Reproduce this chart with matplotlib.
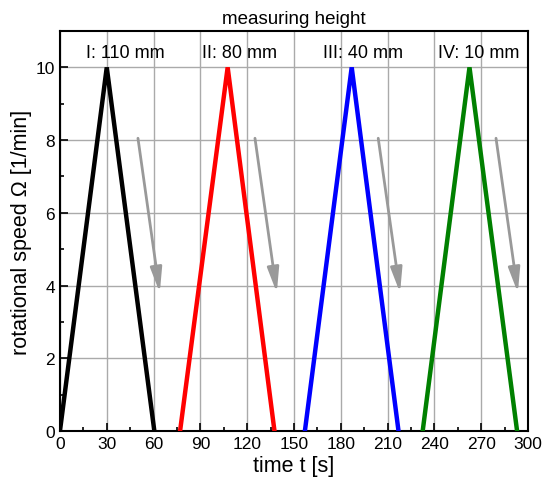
import numpy as np
import matplotlib.pyplot as plt
from matplotlib.ticker import MultipleLocator

plt.rcParams['font.family'] = ['Liberation Sans', 'DejaVu Sans']

# speed ramps (time in s, speed in 1/min), one triangle per measuring height
t_I = [0, 30, 60.5]
t_II = [77, 107.5, 137.5]
t_III = [157, 187, 217]
t_IV = [232.5, 262.5, 293]
omega = [0, 10, 0]

colors = ['black', 'red', 'blue', 'green']
labels = ['I: 110 mm', 'II: 80 mm', 'III: 40 mm', 'IV: 10 mm']
label_x = [41.7, 115, 194, 268.5]
label_y = 10.42

# gray arrows (start -> tip)
arrow_x0 = [50, 125, 204, 279.5]
arrow_x1 = [64, 139, 218, 293.5]
arrow_y0 = 8.05
arrow_y1 = 3.8

fig = plt.figure(figsize=(5.5, 4.89), dpi=100)
ax = fig.add_axes([0.109, 0.1166, 0.851, 0.818])

ax.grid(True, which='major', color='#aaaaaa', linewidth=1.0, zorder=0)
ax.set_axisbelow(True)

for t, c in zip([t_I, t_II, t_III, t_IV], colors):
    ax.plot(t, omega, color=c, linewidth=3.2, zorder=3, solid_joinstyle='miter')

for x0, x1 in zip(arrow_x0, arrow_x1):
    ax.annotate('', xy=(x1, arrow_y1), xytext=(x0, arrow_y0),
                arrowprops=dict(arrowstyle='-|>,head_length=1.5,head_width=0.35',
                                color='#999999', lw=2.0, shrinkA=0, shrinkB=0),
                zorder=2)

for x, s in zip(label_x, labels):
    ax.text(x, label_y, s, ha='center', va='center', fontsize=13)

ax.set_xlim(0, 300)
ax.set_ylim(0, 11)
ax.xaxis.set_major_locator(MultipleLocator(30))
ax.xaxis.set_minor_locator(MultipleLocator(15))
ax.yaxis.set_major_locator(MultipleLocator(2))
ax.yaxis.set_minor_locator(MultipleLocator(1))
ax.tick_params(which='both', direction='in', labelsize=12.5, width=1.2)
ax.tick_params(which='major', length=6)
ax.tick_params(which='minor', length=3)
for sp in ax.spines.values():
    sp.set_linewidth(1.5)

ax.set_xlabel('time t [s]', fontsize=15.5, labelpad=3)
ax.set_ylabel('rotational speed \u03a9 [1/min]', fontsize=15.5, labelpad=3)
ax.set_title('measuring height', fontsize=13.5, pad=6)

fig.savefig('out.png', dpi=100)
